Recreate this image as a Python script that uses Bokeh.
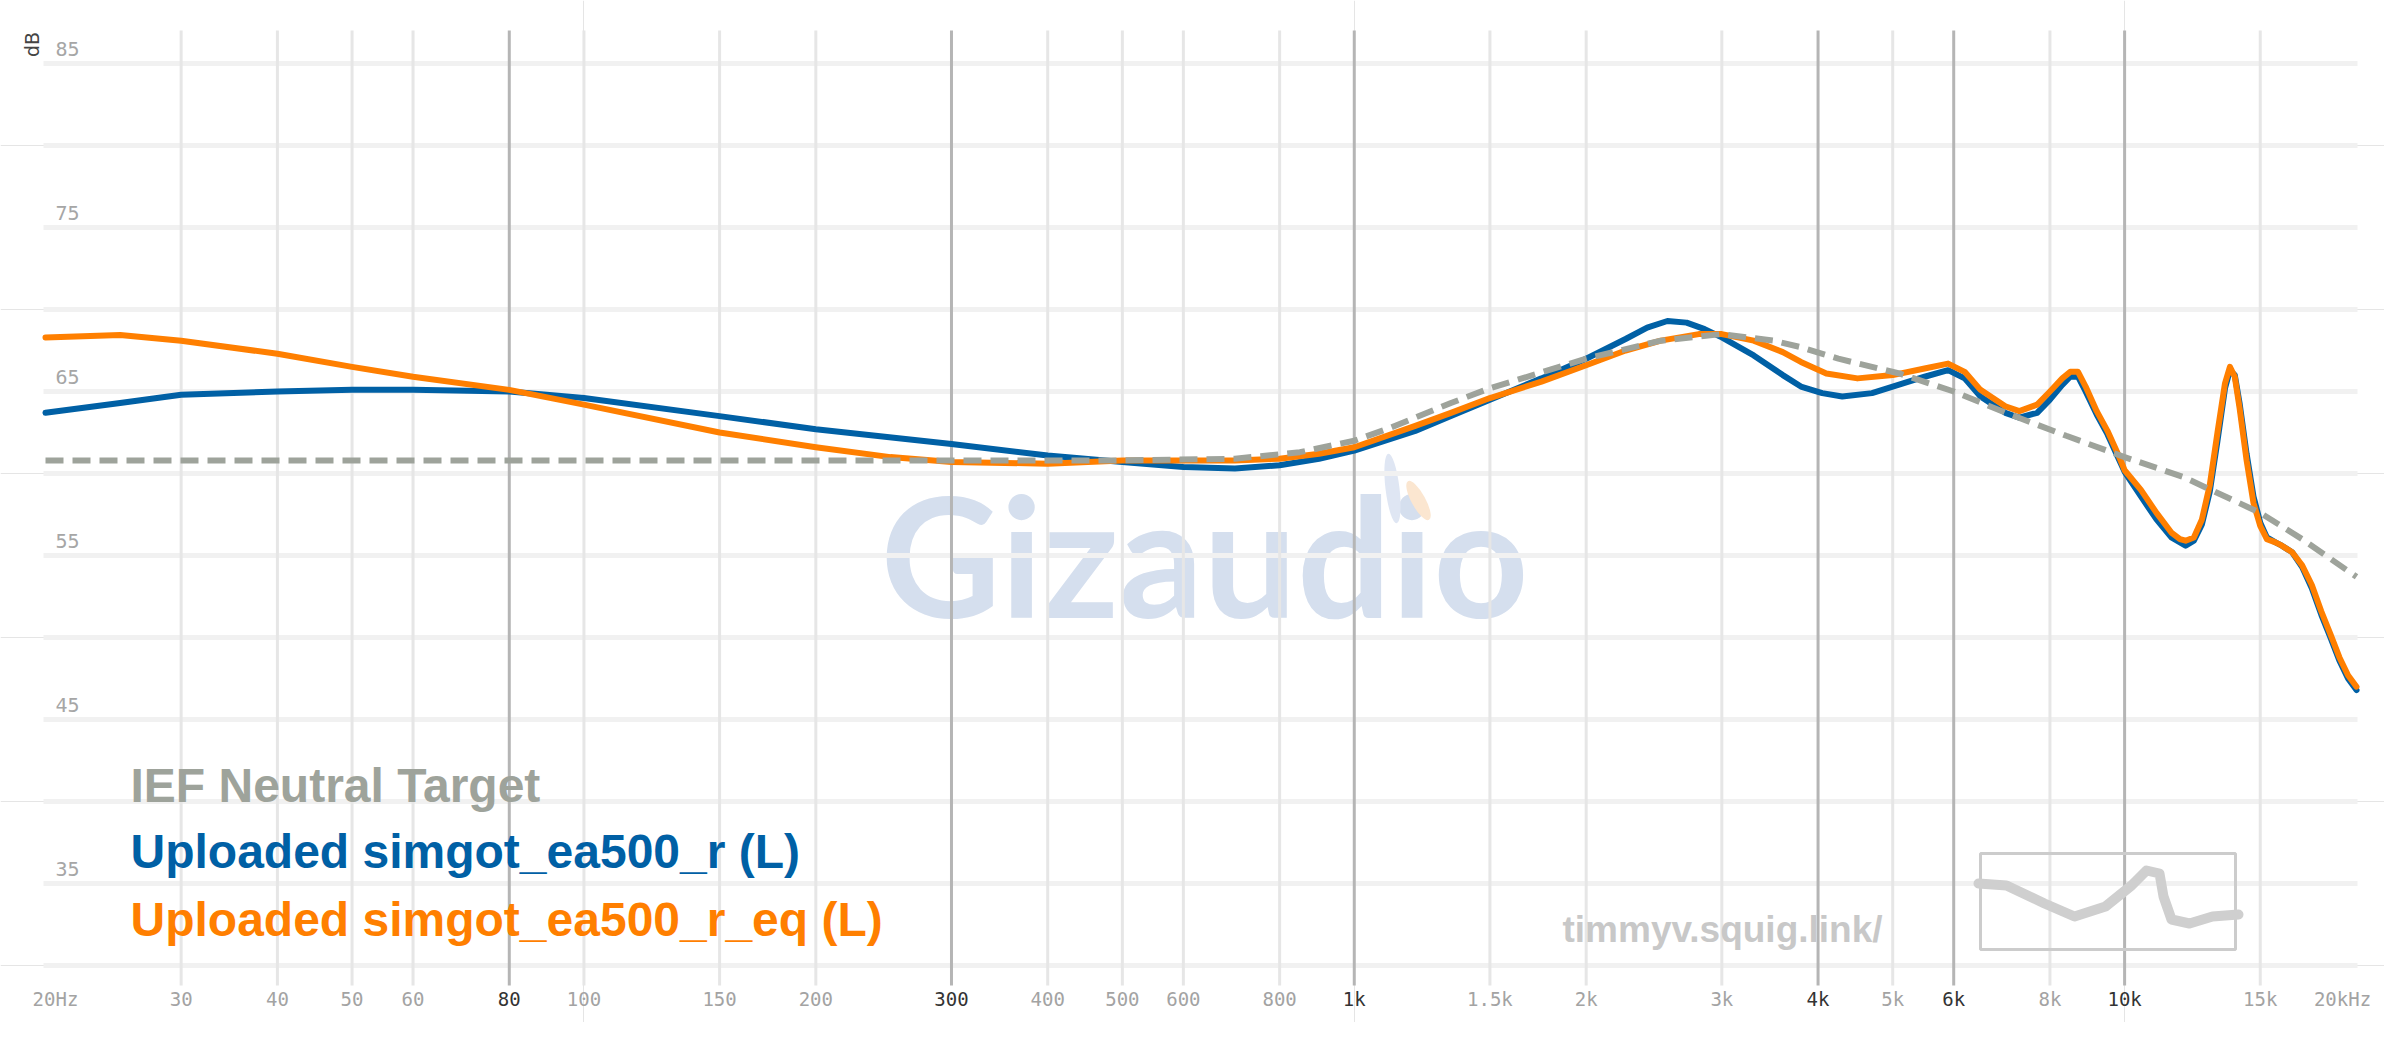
import math
from bokeh.plotting import figure
from bokeh.models import ColumnDataSource, Range1d
from bokeh.core.properties import value
from bokeh.embed import file_html
from bokeh.resources import INLINE

# ---------------- data ----------------
target_freq = [20, 100, 300, 500, 700, 850, 1000, 1116, 1335, 1500, 2000, 2500, 3000, 3500,
               3800, 4250, 5100, 6000, 7100, 8400, 10000, 11900, 15000, 17000, 20000]
target_db = [60.8, 60.8, 60.8, 60.8, 60.9, 61.3, 62.0, 62.8, 64.3, 65.2, 67.0, 68.1, 68.5, 68.1,
             67.7, 67.0, 66.1, 65.0, 63.6, 62.3, 61.0, 59.8, 57.6, 56.0, 53.7]

raw_freq = [20, 25, 30, 40, 50, 60, 80, 100, 150, 200, 300, 400, 500, 600, 700, 800, 900,
            1000, 1200, 1335, 1500, 1750, 2000, 2250, 2400, 2550, 2700, 2850, 3000, 3300,
            3600, 3800, 4050, 4300, 4700, 5000, 5500, 5900, 6200, 6500, 7000, 7300, 7700,
            8000, 8300, 8500, 8700, 8900, 9200, 9500, 9800, 10000, 10500, 11000, 11500, 11800,
            12000, 12300, 12600, 12900, 13200, 13500, 13700, 13900, 14100, 14400, 14700,
            15000, 15300, 15700, 16000, 16500, 17000, 17500, 18000, 18500, 19000, 19500, 20000]
raw_db = [63.7, 64.3, 64.8, 65.0, 65.1, 65.1, 65.0, 64.6, 63.5, 62.7, 61.8, 61.1, 60.7, 60.4,
          60.3, 60.5, 60.9, 61.4, 62.6, 63.5, 64.5, 65.8, 67.0, 68.2, 68.9, 69.3, 69.2, 68.8,
          68.3, 67.2, 66.0, 65.3, 64.9, 64.7, 64.9, 65.3, 65.9, 66.3, 65.8, 64.7, 63.7, 63.4,
          63.7, 64.5, 65.4, 65.9, 65.9, 65.0, 63.6, 62.4, 61.0, 60.1, 58.6, 57.2, 56.1, 55.8,
          55.6, 55.9, 56.9, 58.9, 62.0, 65.2, 66.3, 66.0, 64.3, 61.2, 58.6, 57.0, 56.1,
          55.8, 55.6, 55.2, 54.3, 53.0, 51.4, 50.0, 48.6, 47.5, 46.8]

eq_freq = [20, 25, 30, 40, 50, 60, 80, 100, 150, 200, 250, 300, 400, 500, 600, 700, 800, 900,
           1000, 1200, 1335, 1500, 1750, 2000, 2250, 2500, 2800, 3000, 3300, 3600, 3800, 4100,
           4500, 5000, 5500, 5900, 6200, 6500, 7000, 7300, 7700, 8000, 8300, 8500, 8700, 8900,
           9200, 9500, 9800, 10000, 10500, 11000, 11500, 11800, 12000, 12300, 12600, 12900,
           13200, 13500, 13700, 13900, 14100, 14400, 14700, 15000, 15300, 15700, 16000, 16500,
           17000, 17500, 18000, 18500, 19000, 19500, 20000]
eq_db = [68.3, 68.45, 68.1, 67.3, 66.5, 65.9, 65.1, 64.2, 62.5, 61.6, 61.0, 60.7, 60.6, 60.8,
         60.8, 60.8, 60.9, 61.2, 61.6, 62.9, 63.7, 64.6, 65.6, 66.6, 67.5, 68.1, 68.5, 68.5,
         68.1, 67.4, 66.8, 66.1, 65.8, 66.0, 66.4, 66.7, 66.2, 65.1, 64.1, 63.8, 64.2, 65.0,
         65.8, 66.2, 66.2, 65.3, 63.8, 62.6, 61.2, 60.2, 59.0, 57.6, 56.4, 56.0, 55.9, 56.1,
         57.2, 59.3, 62.5, 65.5, 66.5, 65.9, 64.0, 60.8, 58.2, 56.8, 56.0, 55.8, 55.6, 55.2,
         54.4, 53.2, 51.6, 50.2, 48.8, 47.7, 47.0]

series_names = ["IEF Neutral Target", "Uploaded simgot_ea500_r (L)", "Uploaded simgot_ea500_r_eq (L)"]
series_colors = ["#9ea39b", "#0060a5", "#ff7f00"]

y_label_ticks = [85, 75, 65, 55, 45, 35]
y_grid_ticks = [30, 35, 40, 45, 50, 55, 60, 65, 70, 75, 80, 85]
x_tick_freqs = [20, 30, 40, 50, 60, 80, 100, 150, 200, 300, 400, 500, 600, 800, 1000, 1500,
                2000, 3000, 4000, 5000, 6000, 8000, 10000, 15000, 20000]
x_tick_labels = ["20Hz", "30", "40", "50", "60", "80", "100", "150", "200", "300", "400", "500",
                 "600", "800", "1k", "1.5k", "2k", "3k", "4k", "5k", "6k", "8k", "10k", "15k", "20kHz"]
x_strong = [80, 300, 1000, 4000, 6000, 10000]

# ---------------- layout (pixels of the picture) ----------------
ORIGIN = 0
W, H = 2384, 1022
PX_20, PX_20K = 45, 2356
PY_85, PX_PER_DB = 63, 16.4


def fx(px):
    return 10 ** (math.log10(20) + (px - PX_20) * 3.0 / (PX_20K - PX_20))


def fy(py):
    return 85 - (py - PY_85) / PX_PER_DB


p = figure(width=W, height=H, x_axis_type="log",
           x_range=Range1d(fx(ORIGIN), fx(ORIGIN + W)), y_range=Range1d(fy(ORIGIN + H), fy(ORIGIN)),
           x_axis_location=None, y_axis_location=None,
           output_backend="svg", toolbar_location=None, min_border=0)
p.outline_line_color = None
p.background_fill_color = "white"
p.border_fill_color = "white"

# watermark
p.text(x=[fx(1204)], y=[fy(553)], text=["Gizaudio"], text_font=value("Lato"),
       text_font_style="bold", text_font_size="166px", text_color="#d5dfee",
       text_align="center", text_baseline="middle")
p.ellipse(x=[fx(1392)], y=[fy(488)], width=14, height=70, angle=0.12,
          width_units="screen", height_units="screen",
          fill_color="#dfe6f3", line_color=None)
p.ellipse(x=[fx(1418)], y=[fy(500)], width=14, height=44, angle=0.5,
          width_units="screen", height_units="screen",
          fill_color="#fbe6d0", line_color=None)

# horizontal grid
p.segment(x0=fx(43), x1=fx(2357), y0=y_grid_ticks, y1=y_grid_ticks,
          line_color="#f1f1f1", line_width=5)

# vertical grid
light = [f for f in x_tick_freqs[1:-1] if f not in x_strong]
p.segment(x0=light, x1=light, y0=fy(985), y1=fy(30), line_color="#e6e6e6", line_width=3)
p.segment(x0=x_strong, x1=x_strong, y0=fy(985), y1=fy(30), line_color="#b5b5b5", line_width=3)

# y labels
p.text(x=[fx(55)] * len(y_label_ticks), y=[v + 15 / PX_PER_DB for v in y_label_ticks],
       text=[str(v) for v in y_label_ticks], text_font=value("DejaVu Sans Mono"),
       text_font_size="20px", text_color="#a6a6a6", text_align="left",
       text_baseline="middle")
p.text(x=[fx(31)], y=[fy(44)], text=["dB"], angle=math.pi / 2, text_font=value("DejaVu Sans"),
       text_font_size="19px", text_color="#444444", text_align="center", text_baseline="middle")

# x labels
xoff = [0] * len(x_tick_freqs)
xoff[0], xoff[-1] = 10, -14
xsrc = ColumnDataSource(dict(
    x=x_tick_freqs, y=[fy(998)] * len(x_tick_freqs), t=x_tick_labels, off=xoff,
    c=["#333333" if f in x_strong else "#a3a3a3" for f in x_tick_freqs]))
p.text(x="x", y="y", text="t", x_offset="off", text_color="c", source=xsrc,
       text_font=value("DejaVu Sans Mono"), text_font_size="19px",
       text_align="center", text_baseline="middle")

# curves
p.line(raw_freq, raw_db, line_color=series_colors[1], line_width=6, line_join="round",
       line_cap="round")
p.line(eq_freq, eq_db, line_color=series_colors[2], line_width=6, line_join="round",
       line_cap="round")
p.line(target_freq, target_db, line_color=series_colors[0], line_width=6, line_dash="18 9")

# legend texts
p.text(x=[fx(130)] * 3, y=[fy(785), fy(851), fy(919)], text=series_names,
       text_color=series_colors, text_font=value("Liberation Sans"), text_font_style="bold",
       text_font_size="48px", text_align="left", text_baseline="middle")

# site text
p.text(x=[fx(1562)], y=[fy(929)], text=["timmyv.squig.link/"], text_color="#c8c8c8",
       text_font=value("Liberation Sans"), text_font_style="bold", text_font_size="37px",
       text_align="left", text_baseline="middle")

# squig logo
p.quad(left=[fx(1980)], right=[fx(2235)], top=[fy(853)], bottom=[fy(949)],
       fill_color=None, line_color="#cccccc", line_width=3)
logo_px = [(1978, 883), (2006, 885), (2044, 903), (2074, 916), (2105, 906), (2131, 885),
           (2146, 870), (2159, 873), (2163, 896), (2171, 919), (2189, 923), (2212, 916),
           (2238, 914)]
p.line([fx(a) for a, b in logo_px], [fy(b) for a, b in logo_px], line_color="#cfcfcf",
       line_width=10, line_join="round", line_cap="round")

open("out.html", "w").write(file_html(p, INLINE))
